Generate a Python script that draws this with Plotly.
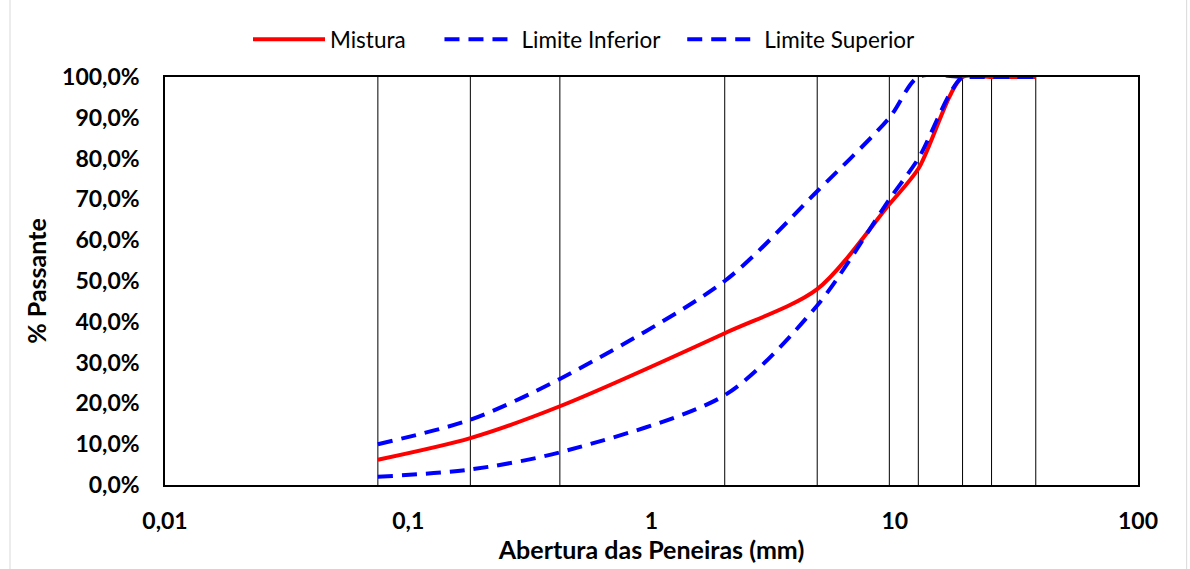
import plotly.graph_objects as go

# Sieve openings (mm)
sieves = [0.075, 0.18, 0.42, 2.0, 4.8, 9.5, 12.5, 19, 25, 38]

# Percent passing for each sieve
mistura = [6.2, 11.5, 19.3, 37.2, 48.0, 68.8, 77.5, 100, 100, 100]
limite_inferior = [2.0, 3.8, 8.0, 22.0, 44.0, 70.0, 80.0, 100, 100, 100]
limite_superior = [10.0, 16.0, 26.0, 50.0, 72.0, 90.0, 100, 100, 100, 100]

x_tick_vals = [0.01, 0.1, 1, 10, 100]
x_tick_text = ["0,01", "0,1", "1", "10", "100"]
y_tick_vals = [0, 10, 20, 30, 40, 50, 60, 70, 80, 90, 100]
y_tick_text = [f"{v:.1f}%".replace(".", ",") for v in y_tick_vals]

FONT = "Lato, 'Open Sans', sans-serif"
BLUE = "#0000FF"
RED = "#FF0000"
DASH = "15px,9px"
TICK_SIZE = 23
TITLE_SIZE = 25
LEGEND_SIZE = 22.5
NBSP = "\u00a0"  # spacing between legend entries

fig = go.Figure()

fig.add_trace(go.Scatter(
    x=sieves, y=mistura, name="Mistura" + NBSP * 5, mode="lines",
    line=dict(color=RED, width=4, shape="spline", smoothing=0.8),
))
fig.add_trace(go.Scatter(
    x=sieves, y=limite_inferior, name="Limite Inferior" + NBSP * 3, mode="lines",
    line=dict(color=BLUE, width=4, dash=DASH, shape="spline", smoothing=0.8),
))
fig.add_trace(go.Scatter(
    x=sieves, y=limite_superior, name="Limite Superior", mode="lines",
    line=dict(color=BLUE, width=4, dash=DASH, shape="spline", smoothing=0.8),
))

# Vertical reference line at each sieve opening
shapes = [
    dict(type="line", xref="x", yref="paper", x0=s, x1=s, y0=0, y1=1,
         line=dict(color="black", width=1), layer="below")
    for s in sieves
]
# Light outer frame of the chart area
shapes.append(dict(type="rect", xref="paper", yref="paper",
                   x0=-155 / 973, x1=1.05, y0=-1.5, y1=1.2,
                   line=dict(color="#D9D9D9", width=1), layer="below"))

fig.update_layout(
    width=1190, height=569,
    margin=dict(l=165, r=52, t=77, b=84),
    paper_bgcolor="white", plot_bgcolor="white",
    font=dict(family=FONT, color="black", size=LEGEND_SIZE),
    shapes=shapes,
    showlegend=True,
    legend=dict(orientation="h", x=(248 - 165) / 973, xanchor="left",
                y=1.039, yanchor="bottom",
                font=dict(size=LEGEND_SIZE, family=FONT), itemwidth=72,
                bgcolor="rgba(0,0,0,0)"),
    xaxis=dict(
        type="log", range=[-2, 2],
        tickvals=x_tick_vals, ticktext=[f"<b>{t}</b>" for t in x_tick_text],
        tickfont=dict(size=TICK_SIZE, family=FONT, color="black"),
        showgrid=False, zeroline=False,
        showline=True, linecolor="black", linewidth=1.5, mirror=True,
        ticks="", ticklabelstandoff=15,
        title=dict(text="<b>Abertura das Peneiras (mm)</b>",
                   font=dict(size=TITLE_SIZE, family=FONT), standoff=2),
    ),
    yaxis=dict(
        range=[0, 100],
        tickvals=y_tick_vals, ticktext=[f"<b>{t}</b>" for t in y_tick_text],
        tickfont=dict(size=TICK_SIZE, family=FONT, color="black"),
        showgrid=False, zeroline=False,
        showline=True, linecolor="black", linewidth=1.5, mirror=True,
        ticks="", ticklabelstandoff=19,
        title=dict(text="<b>% Passante</b>",
                   font=dict(size=TITLE_SIZE, family=FONT), standoff=8),
    ),
)

fig.write_html("out.html")
